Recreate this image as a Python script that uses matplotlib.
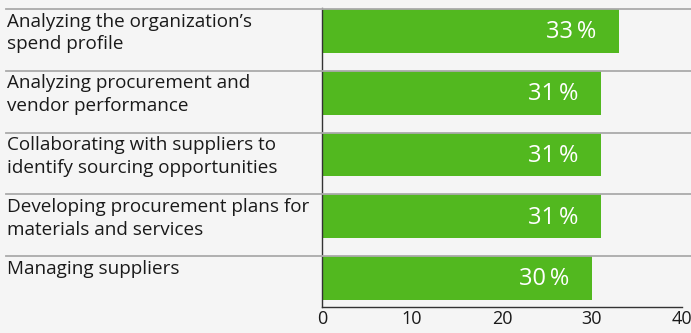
import matplotlib.pyplot as plt
from matplotlib.transforms import blended_transform_factory

categories = [
    "Analyzing the organization\u2019s\nspend profile",
    "Analyzing procurement and\nvendor performance",
    "Collaborating with suppliers to\nidentify sourcing opportunities",
    "Developing procurement plans for\nmaterials and services",
    "Managing suppliers",
]
values = [33, 31, 31, 31, 30]
xticks = [0, 10, 20, 30, 40]

BG = "#f5f5f5"
GREEN = "#52b81f"
plt.rcParams["font.family"] = ["Open Sans", "DejaVu Sans"]

fig = plt.figure(figsize=(6.91, 3.33), dpi=100, facecolor=BG)
W, H = 691, 333
ax = fig.add_axes([322 / W, 1 - 307 / H, (682 - 322) / W, (307 - 8) / H])
ax.set_facecolor(BG)

slot = 62.0
bar_h = 44 / slot
ypos = list(range(len(values)))
ax.barh(ypos, values, height=bar_h, align="edge", color=GREEN, zorder=2)
ax.set_xlim(0, 40)
ax.set_ylim((307 - 8) / slot, -0.015)

# row separators run across the whole width
trans = blended_transform_factory(fig.transFigure, ax.transData)
for i, (lab, v) in enumerate(zip(categories, values)):
    ax.plot([6 / W, 1], [i, i], transform=trans, color="#aaaaaa", lw=1.3,
            clip_on=False, zorder=3)
    ax.text(7 / W, i + 0.06, lab, transform=trans, ha="left", va="top",
            fontsize=13.6, color="#1a1a1a", linespacing=1.32)
    ax.text(v - 2.5, i + bar_h / 2 + 0.02, f"{v}\u2009%", ha="right", va="center",
            fontsize=17, color="white", zorder=4)

ax.set_xticks(xticks)
ax.set_yticks([])
ax.tick_params(axis="x", length=0, labelsize=13, pad=2, colors="#1a1a1a")
for s in ["top", "right"]:
    ax.spines[s].set_visible(False)
ax.spines["left"].set_color("#333333")
ax.spines["bottom"].set_color("#333333")
ax.spines["left"].set_linewidth(1)
ax.spines["bottom"].set_linewidth(1)

fig.savefig("out.png", dpi=100, facecolor=BG)
